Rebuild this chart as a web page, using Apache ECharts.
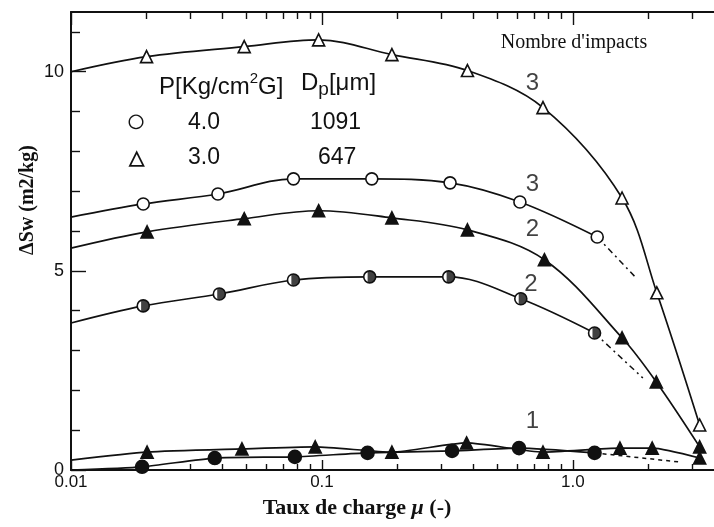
<!DOCTYPE html>
<html>
<head>
<meta charset="utf-8">
<script src="https://cdn.jsdelivr.net/npm/echarts@6/dist/echarts.min.js"></script>
<style>
html, body { margin: 0; padding: 0; background: #fff; }
#chart { width: 714px; height: 527px; }
</style>
</head>
<body>
<div id="chart"></div>
<script>
// ---------- axis ticks / labels ----------
const xMajorTicks = [0.01, 0.1, 1];
const xTickLabels = ['0.01', '0.1', '1.0'];
const xMinorTicks = [0.02, 0.03, 0.04, 0.05, 0.06, 0.07, 0.08, 0.09,
                     0.2, 0.3, 0.4, 0.5, 0.6, 0.7, 0.8, 0.9, 2, 3];
const yLabelTicks = [0, 5, 10];
const yMinorTicks = [1, 2, 3, 4, 6, 7, 8, 9, 11];

// ---------- data (x = Taux de charge mu, y = delta Sw) ----------
// 3 impacts, P = 3.0, Dp = 647 (open triangles)
const tri3Start = 10.0;
const tri3X = [0.020, 0.049, 0.097, 0.19, 0.38, 0.76, 1.57, 2.16, 3.2];
const tri3Y = [10.38, 10.63, 10.80, 10.43, 10.03, 9.10, 6.83, 4.45, 1.13];

// 3 impacts, P = 4.0, Dp = 1091 (open circles)
const cir3Start = 6.35;
const cir3X = [0.0194, 0.0385, 0.077, 0.158, 0.324, 0.615, 1.25];
const cir3Y = [6.68, 6.93, 7.31, 7.31, 7.21, 6.73, 5.85];
const cir3ExtX = [1.25, 1.77];
const cir3ExtY = [5.85, 4.85];

// 2 impacts, P = 3.0, Dp = 647 (filled triangles)
const tri2Start = 5.57;
const tri2X = [0.0201, 0.049, 0.097, 0.19, 0.38, 0.77, 1.57, 2.15, 3.2];
const tri2Y = [5.98, 6.31, 6.51, 6.33, 6.03, 5.28, 3.32, 2.21, 0.58];

// 2 impacts, P = 4.0, Dp = 1091 (half-filled circles)
const half2Start = 3.69;
const half2X = [0.0194, 0.039, 0.077, 0.155, 0.32, 0.62, 1.22];
const half2Y = [4.12, 4.42, 4.77, 4.85, 4.85, 4.30, 3.44];
const half2ExtX = [1.22, 1.90];
const half2ExtY = [3.44, 2.31];

// 1 impact, P = 3.0, Dp = 647 (filled triangles)
const tri1Start = 0.25;
const tri1X = [0.0201, 0.048, 0.094, 0.19, 0.377, 0.76, 1.54, 2.07, 3.2];
const tri1Y = [0.45, 0.53, 0.58, 0.45, 0.68, 0.45, 0.55, 0.55, 0.30];

// 1 impact, P = 4.0, Dp = 1091 (filled circles)
const cir1Start = 0.0;
const cir1X = [0.0192, 0.0374, 0.078, 0.152, 0.33, 0.61, 1.22];
const cir1Y = [0.08, 0.30, 0.33, 0.43, 0.48, 0.55, 0.43];
const cir1ExtX = [1.22, 2.67];
const cir1ExtY = [0.43, 0.20];

// curve labels (number of impacts)
const annX = [0.69, 0.69, 0.69, 0.68, 0.69];
const annY = [9.72, 7.16, 6.03, 4.65, 1.21];
const annText = ['3', '3', '2', '2', '1'];

const xMin = 0.01, xMax = 3.65;

// ---------- helpers ----------
const INK = '#111';
const SANS = "'Liberation Sans', Arial, sans-serif";
const SERIF = "'Liberation Serif', 'Times New Roman', serif";
// mostly-filled circle (white sliver on the left)
const HALF_CIRCLE = 'path://M-3.5,-9.37 A10,10 0 1,1 -3.5,9.37 Z M-10,0 L-9.99,0 L-10,0.01 Z';

function zip(xs, ys) { return xs.map((x, i) => [x, ys[i]]); }

function curve(startY, xs, ys, symbol, size, filled, smooth) {
  const data = [{ value: [xMin, startY], symbol: 'none' }].concat(zip(xs, ys));
  return {
    type: 'line',
    data: data,
    smooth: smooth,
    symbol: symbol,
    symbolSize: size,
    showAllSymbol: true,
    lineStyle: { color: INK, width: 1.7 },
    itemStyle: { color: filled ? INK : '#fff', borderColor: INK, borderWidth: 1.6, opacity: 1 },
    z: 3,
    animation: false
  };
}

function ext(xs, ys, type) {
  return {
    type: 'line',
    data: zip(xs, ys),
    symbol: 'none',
    smooth: false,
    lineStyle: { color: INK, width: 1.5, type: type },
    z: 2,
    animation: false
  };
}

function xLabel(v) {
  for (let i = 0; i < xMajorTicks.length; i++) {
    if (Math.abs(Math.log10(v) - Math.log10(xMajorTicks[i])) < 1e-6) return xTickLabels[i];
  }
  return '';
}

function logAxis(position, tickVals, tickLen, showLine, showLabel) {
  return {
    type: 'log',
    logBase: 10,
    min: xMin,
    max: xMax,
    position: position,
    axisLine: { show: showLine, onZero: false, lineStyle: { color: INK, width: 2 } },
    axisTick: { show: true, inside: true, length: tickLen, customValues: tickVals,
                lineStyle: { color: INK, width: 1.4 } },
    axisLabel: showLabel ? {
      show: true, customValues: xMajorTicks, formatter: xLabel,
      color: INK, fontSize: 17, fontFamily: SANS, margin: 4
    } : { show: false },
    splitLine: { show: false },
    minorTick: { show: false },
    minorSplitLine: { show: false }
  };
}

function valAxis(tickVals, tickLen, showLine, showLabel) {
  return {
    type: 'value',
    min: 0,
    max: 11.5,
    position: 'left',
    axisLine: { show: showLine, onZero: false, lineStyle: { color: INK, width: 2 } },
    axisTick: { show: true, inside: true, length: tickLen, customValues: tickVals,
                lineStyle: { color: INK, width: 1.4 } },
    axisLabel: showLabel ? {
      show: true, customValues: yLabelTicks, color: INK, fontSize: 18,
      fontFamily: SANS, margin: 7
    } : { show: false },
    splitLine: { show: false }
  };
}

const option = {
  backgroundColor: '#fff',
  animation: false,
  grid: { left: 71, right: 0, top: 12, bottom: 57, containLabel: false },
  xAxis: [
    logAxis('bottom', xMajorTicks, 10, true, true),
    logAxis('bottom', xMinorTicks, 6, false, false),
    logAxis('top', xMajorTicks, 13, true, false),
    logAxis('top', xMinorTicks, 7, false, false)
  ],
  yAxis: [
    valAxis(yLabelTicks, 15, true, true),
    valAxis(yMinorTicks, 9, false, false)
  ],
  series: [
    ext(cir3ExtX, cir3ExtY, [6, 4, 2, 4]),
    ext(half2ExtX, half2ExtY, [6, 4, 2, 4]),
    ext(cir1ExtX, cir1ExtY, [4, 4]),
    curve(tri3Start, tri3X, tri3Y, 'triangle', 12, false, 0.35),
    curve(cir3Start, cir3X, cir3Y, 'circle', 12, false, 0.35),
    curve(tri2Start, tri2X, tri2Y, 'triangle', 12, true, 0.35),
    curve(half2Start, half2X, half2Y, 'circle', 12, false, 0.35),
    {
      type: 'scatter',
      data: zip(half2X, half2Y),
      symbol: HALF_CIRCLE,
      symbolSize: 12,
      itemStyle: { color: INK },
      z: 5,
      animation: false
    },
    curve(tri1Start, tri1X, tri1Y, 'triangle', 12, true, 0.2),
    curve(cir1Start, cir1X, cir1Y, 'circle', 13, true, 0.2),
    {
      type: 'scatter',
      data: zip(annX, annY),
      symbolSize: 1,
      itemStyle: { color: 'rgba(0,0,0,0)' },
      label: {
        show: true, position: 'inside',
        formatter: p => annText[p.dataIndex],
        color: INK, fontSize: 24, fontFamily: SANS
      },
      z: 6,
      animation: false
    }
  ],
  graphic: [
    { type: 'text', x: 574, y: 43,
      style: { text: "Nombre d'impacts", font: '20px ' + SERIF, fill: INK, align: 'center', verticalAlign: 'middle' } },
    { type: 'text', x: 159, y: 85,
      style: {
        text: '{a|P[Kg/cm}{s|2}{a|G]}',
        align: 'left', verticalAlign: 'middle',
        rich: {
          a: { fontFamily: SANS, fontSize: 24, lineHeight: 28, fill: INK, color: INK, verticalAlign: 'bottom' },
          s: { fontFamily: SANS, fontSize: 15, lineHeight: 28, fill: INK, color: INK, verticalAlign: 'top' }
        }
      } },
    { type: 'text', x: 301, y: 85,
      style: {
        text: '{a|D}{b|p}{a|[μm]}',
        align: 'left', verticalAlign: 'middle',
        rich: {
          a: { fontFamily: SANS, fontSize: 24, lineHeight: 28, fill: INK, color: INK, verticalAlign: 'top' },
          b: { fontFamily: SANS, fontSize: 19, lineHeight: 28, fill: INK, color: INK, verticalAlign: 'bottom' }
        }
      } },
    { type: 'text', x: 136, y: 123,
      style: { text: '○', font: 'bold 34px ' + SANS, fill: INK, align: 'center', verticalAlign: 'middle' } },
    { type: 'text', x: 188, y: 123,
      style: { text: '4.0', font: '23px ' + SANS, fill: INK, align: 'left', verticalAlign: 'middle' } },
    { type: 'text', x: 310, y: 123,
      style: { text: '1091', font: '23px ' + SANS, fill: INK, align: 'left', verticalAlign: 'middle' } },
    { type: 'text', x: 136, y: 158,
      style: { text: '△', font: 'bold 20px ' + SANS, fill: INK, align: 'center', verticalAlign: 'middle' } },
    { type: 'text', x: 188, y: 158,
      style: { text: '3.0', font: '23px ' + SANS, fill: INK, align: 'left', verticalAlign: 'middle' } },
    { type: 'text', x: 318, y: 158,
      style: { text: '647', font: '23px ' + SANS, fill: INK, align: 'left', verticalAlign: 'middle' } },
    { type: 'text', x: 357, y: 508,
      style: {
        text: '{b|Taux de charge }{i|μ}{b| (-)}',
        align: 'center', verticalAlign: 'middle',
        rich: {
          b: { fontFamily: SERIF, fontWeight: 'bold', fontSize: 22, fill: INK, color: INK },
          i: { fontFamily: SERIF, fontWeight: 'bold', fontStyle: 'italic', fontSize: 22, fill: INK, color: INK }
        }
      } },
    { type: 'text', x: 28, y: 200, rotation: Math.PI / 2,
      style: { text: 'ΔSw (m2/kg)', font: 'bold 20px ' + SERIF, fill: INK, align: 'center', verticalAlign: 'middle' } }
  ]
};

const chart = echarts.init(document.getElementById('chart'), null, { renderer: 'canvas' });
chart.setOption(option);
</script>
</body>
</html>
